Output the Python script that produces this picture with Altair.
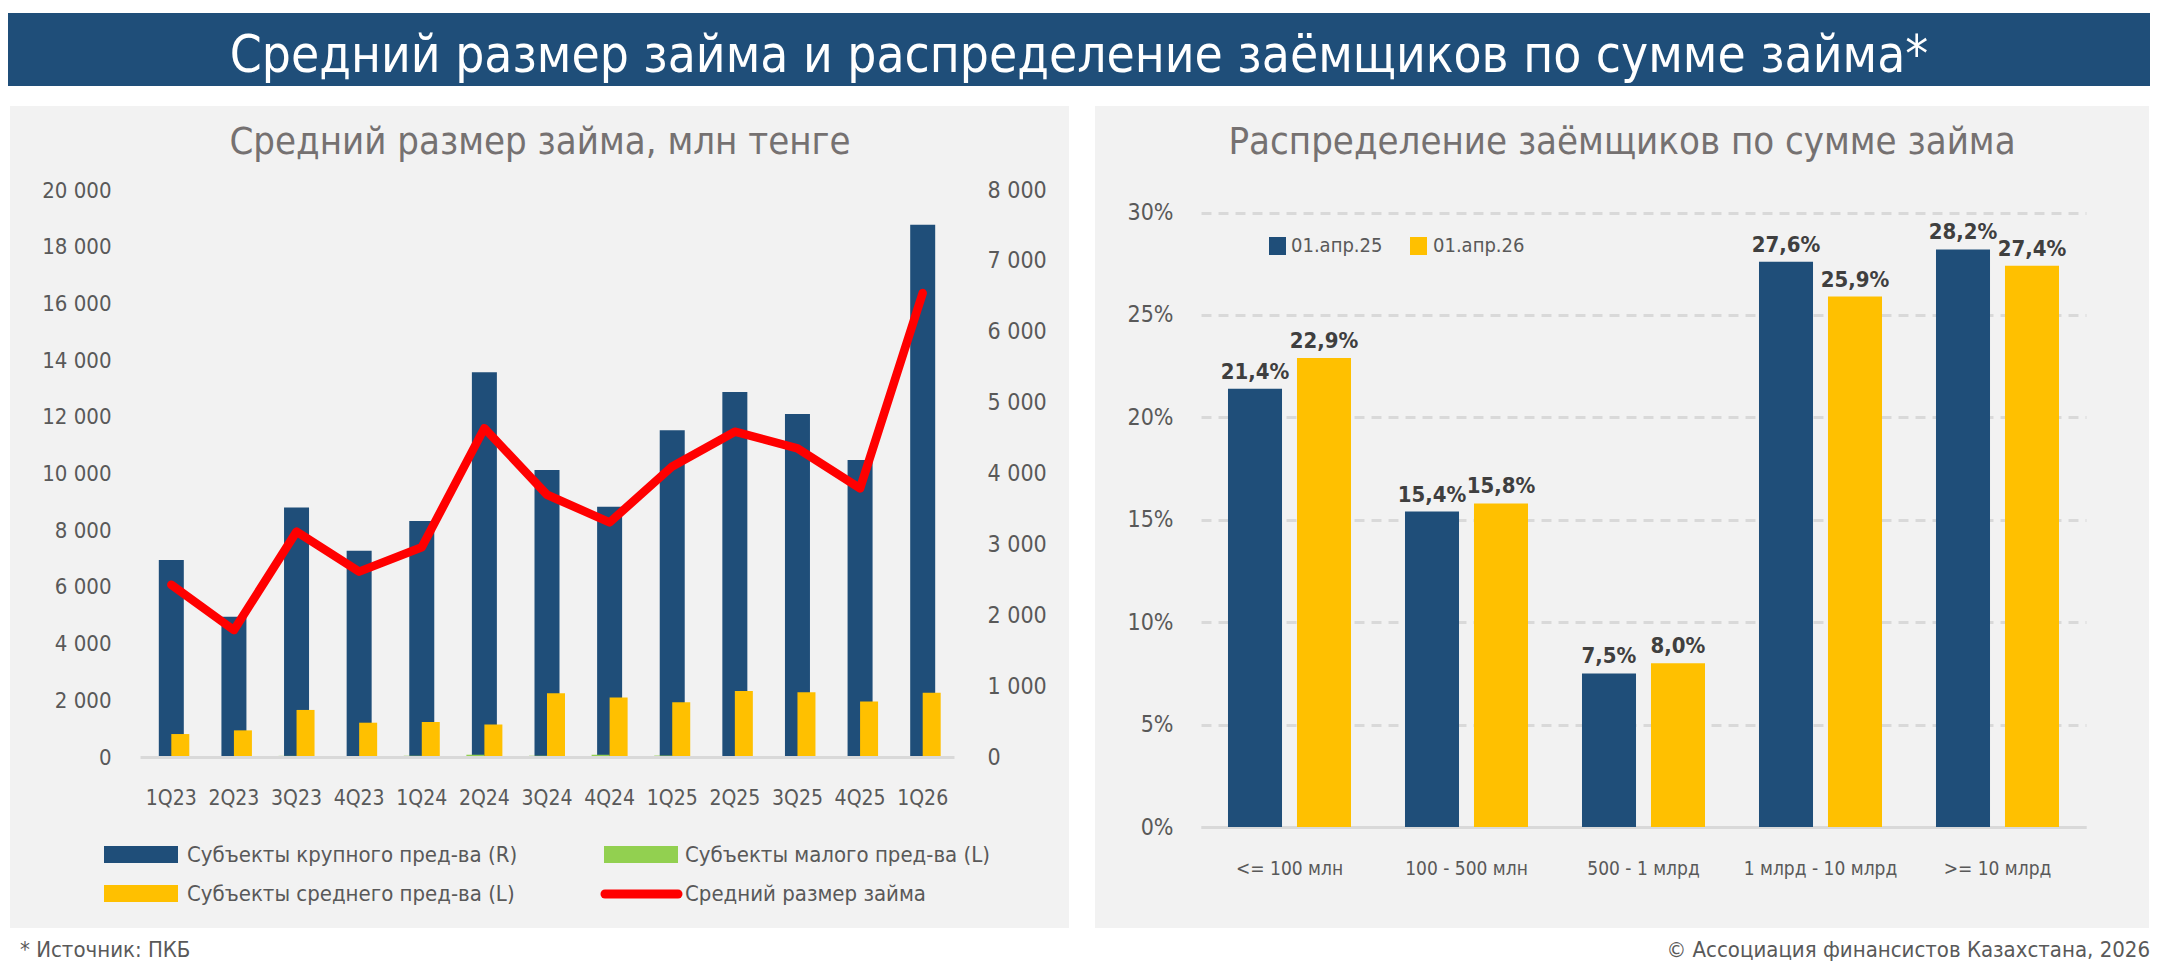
import altair as alt
import pandas as pd

FONT = "'Liberation Sans Narrow', 'DejaVu Sans Condensed', 'Roboto Condensed', Roboto, sans-serif"

# ---- data: average loan size by quarter ----
quarters = ["1Q23", "2Q23", "3Q23", "4Q23", "1Q24", "2Q24", "3Q24",
            "4Q24", "1Q25", "2Q25", "3Q25", "4Q25", "1Q26"]
large_biz = [2780, 1980, 3520, 2910, 3330, 5430, 4050, 3530, 4610, 5150, 4840, 4190, 7510]
small_biz = [15, 20, 40, 35, 40, 80, 45, 80, 50, 25, 30, 30, 20]
medium_biz = [810, 940, 1660, 1210, 1235, 1150, 2250, 2100, 1930, 2330, 2280, 1960, 2270]
avg_loan = [2430, 1790, 3180, 2615, 2960, 4640, 3700, 3310, 4100, 4590, 4355, 3790, 6545]

series_names = ["Субъекты крупного пред-ва (R)", "Субъекты малого пред-ва (L)",
                "Субъекты среднего пред-ва (L)", "Средний размер займа"]

# ---- data: borrowers by loan amount ----
buckets = ["<= 100 млн", "100 - 500 млн", "500 - 1 млрд", "1 млрд - 10 млрд", ">= 10 млрд"]
periods = ["01.апр.25", "01.апр.26"]
share_2025 = [21.4, 15.4, 7.5, 27.6, 28.2]
share_2026 = [22.9, 15.8, 8.0, 25.9, 27.4]

BLUE = "#1F4E79"
GREEN = "#92D050"
YELLOW = "#FFC000"
RED = "#FF0000"
PANEL = "#F2F2F2"
AXIS_TXT = "#595959"
TITLE_TXT = "#757171"
BASE = "#D9D9D9"

# page position of each plot area's top-left corner
LX, LY = 140, 190
RX, RY = 1201, 190
LW, LH = 814, 567
RW, RH = 885, 637

ONE = pd.DataFrame({"k": [0]})


def box(x0, x1, y0, y1, color, ox=LX, oy=LY):
    return alt.Chart(ONE).mark_rect(color=color).encode(
        x=alt.value(x0 - ox), x2=alt.value(x1 - ox),
        y=alt.value(y0 - oy), y2=alt.value(y1 - oy))


def text(t, x, y, size, color, align="left", baseline="middle",
         weight="normal", ox=LX, oy=LY):
    return alt.Chart(pd.DataFrame({"t": [t]})).mark_text(
        font=FONT, fontSize=size, color=color, align=align,
        baseline=baseline, fontWeight=weight).encode(
        text="t:N", x=alt.value(x - ox), y=alt.value(y - oy))


# ---------------- left chart ----------------
left_df = pd.DataFrame({"quarter": quarters, "large": large_biz, "avg": avg_loan})
lm_df = pd.DataFrame({
    "quarter": quarters * 2,
    "segment": [series_names[1]] * len(quarters) + [series_names[2]] * len(quarters),
    "value": small_biz + medium_biz,
})

x_q = alt.X("quarter:N", sort=quarters,
            scale=alt.Scale(domain=quarters, paddingInner=0, paddingOuter=0),
            axis=alt.Axis(title=None, labelFont=FONT, labelFontSize=21,
                          labelColor=AXIS_TXT, labelAngle=0, ticks=False,
                          domainColor=BASE, domainWidth=3, labelPadding=41,
                          labelBaseline="middle", labelLimit=0, zindex=1))

blue_bars = alt.Chart(left_df).mark_bar(size=25, color=BLUE).encode(
    x=x_q,
    y=alt.Y("large:Q", scale=alt.Scale(domain=[0, 8000], nice=False),
            axis=alt.Axis(orient="right", title=None, values=list(range(0, 8001, 1000)),
                          labelExpr="replace(format(datum.value, ','), ',', ' ')",
                          labelFont=FONT, labelFontSize=23, labelColor=AXIS_TXT,
                          ticks=False, domain=False, grid=False, labelPadding=33,
                          zindex=1)))

lm_bars = alt.Chart(lm_df).mark_bar().encode(
    x=x_q,
    xOffset=alt.XOffset("segment:N", sort=series_names[1:3],
                        scale=alt.Scale(domain=series_names[1:3], paddingInner=0,
                                        paddingOuter=0.7393)),
    y=alt.Y("value:Q", scale=alt.Scale(domain=[0, 20000], nice=False),
            axis=alt.Axis(orient="left", title=None, values=list(range(0, 20001, 2000)),
                          labelExpr="replace(format(datum.value, ','), ',', ' ')",
                          labelFont=FONT, labelFontSize=22, labelColor=AXIS_TXT,
                          ticks=False, domain=False, grid=False, labelPadding=29,
                          zindex=1)),
    color=alt.Color("segment:N", scale=alt.Scale(domain=series_names[1:3],
                                                 range=[GREEN, YELLOW]), legend=None))

avg_line = alt.Chart(left_df).mark_line(
    color=RED, strokeWidth=8.5, strokeJoin="round", strokeCap="round").encode(
    x=x_q,
    y=alt.Y("avg:Q", scale=alt.Scale(domain=[0, 8000], nice=False), axis=None))

legend_left = [
    box(104, 178, 846, 863, BLUE),
    text(series_names[0], 187, 855, 22, AXIS_TXT),
    box(604, 678, 846, 863, GREEN),
    text(series_names[1], 685, 855, 22, AXIS_TXT),
    box(104, 178, 885, 902, YELLOW),
    text(series_names[2], 187, 894, 22, AXIS_TXT),
    alt.Chart(ONE).mark_rule(color=RED, strokeWidth=9, strokeCap="round").encode(
        x=alt.value(605 - LX), x2=alt.value(678 - LX), y=alt.value(894 - LY)),
    text(series_names[3], 685, 894, 22, AXIS_TXT),
]

left = alt.layer(
    box(0, 2160, 0, 967, "white"),
    box(8, 2150, 13, 86, BLUE),
    box(10, 1069, 106, 928, PANEL),
    box(1095, 2149, 106, 928, PANEL),
    text("Средний размер займа и распределение заёмщиков по сумме займа*",
         1079, 72, 51, "white", align="center", baseline="alphabetic"),
    text("Средний размер займа, млн тенге", 540, 154, 38, TITLE_TXT,
         align="center", baseline="alphabetic"),
    blue_bars, lm_bars, avg_line,
    *legend_left,
    text("* Источник: ПКБ", 20, 950, 22, AXIS_TXT),
    text("© Ассоциация финансистов Казахстана, 2026", 2150, 950, 22, AXIS_TXT,
         align="right"),
).resolve_scale(y="independent").properties(width=LW, height=LH)

# ---------------- right chart ----------------
right_df = pd.DataFrame({
    "bucket": buckets * 2,
    "period": [periods[0]] * len(buckets) + [periods[1]] * len(buckets),
    "share": share_2025 + share_2026,
})

x_b = alt.X("bucket:N", sort=buckets,
            scale=alt.Scale(domain=buckets, paddingInner=0.305, paddingOuter=0.1525),
            axis=alt.Axis(title=None, labelFont=FONT, labelFontSize=19,
                          labelColor=AXIS_TXT, labelAngle=0, ticks=False,
                          domainColor=BASE, domainWidth=3, labelPadding=41,
                          labelBaseline="middle", labelLimit=0))
x_off = alt.XOffset("period:N", sort=periods,
                    scale=alt.Scale(domain=periods, paddingInner=0.217, paddingOuter=0))
y_s = alt.Y("share:Q", scale=alt.Scale(domain=[0, 31.1], nice=False),
            axis=alt.Axis(title=None, values=[0, 5, 10, 15, 20, 25, 30],
                          labelExpr="datum.value + '%'", labelFont=FONT,
                          labelFontSize=23, labelColor=AXIS_TXT, ticks=False,
                          domain=False, grid=True, gridColor=BASE, gridWidth=3,
                          gridDash=[10, 7], labelPadding=28))

share_bars = alt.Chart(right_df).mark_bar().encode(
    x=x_b, xOffset=x_off, y=y_s,
    color=alt.Color("period:N", scale=alt.Scale(domain=periods, range=[BLUE, YELLOW]),
                    legend=None))

share_text = alt.Chart(right_df).transform_calculate(
    lbl="replace(format(datum.share, '.1f'), '.', ',') + '%'"
).mark_text(font=FONT, fontSize=22, fontWeight="bold", color="#3F3F3F",
            baseline="alphabetic", dy=-10).encode(
    x=x_b, xOffset=x_off, y=y_s, text="lbl:N")

right = alt.layer(
    share_bars, share_text,
    box(1269, 1286, 237, 255, BLUE, RX, RY),
    text(periods[0], 1291, 246, 20, AXIS_TXT, ox=RX, oy=RY),
    box(1410, 1427, 237, 255, YELLOW, RX, RY),
    text(periods[1], 1433, 246, 20, AXIS_TXT, ox=RX, oy=RY),
    text("Распределение заёмщиков по сумме займа", 1622, 154, 38, TITLE_TXT,
         align="center", baseline="alphabetic", ox=RX, oy=RY),
).properties(width=RW, height=RH)

chart = alt.hconcat(left, right, spacing=RX - (LX + LW), bounds="flush").resolve_scale(
    color="independent", xOffset="independent"
).properties(padding=0).configure(background="white").configure_view(strokeWidth=0)

chart.save("out.html", embed_options={"renderer": "svg", "actions": False})
